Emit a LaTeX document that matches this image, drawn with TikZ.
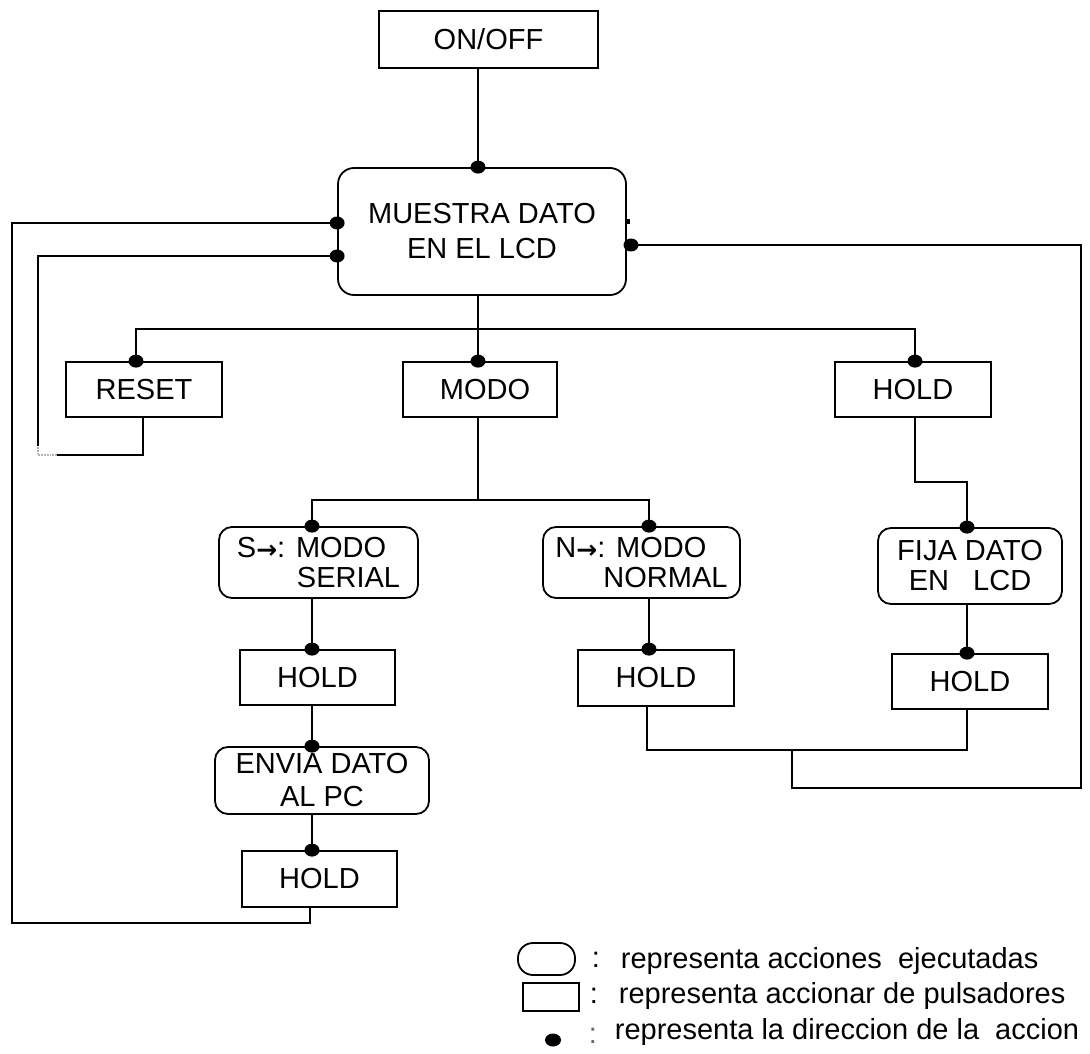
\documentclass[tikz,border=0pt]{standalone}
\usepackage{fontspec}
\usetikzlibrary{shapes.geometric}
\setmainfont{Liberation Sans}
\newfontfamily\arrowfont{DejaVu Sans}
\newcommand{\rarr}{{\arrowfont\bfseries\fontsize{25}{25}\selectfont\raisebox{-1pt}{→}}}
\begin{document}
\begin{tikzpicture}[x=1pt,y=-1pt,
  line width=1.8pt,
  txt/.style={font=\fontsize{29}{34}\selectfont},
  btn/.style={draw, rectangle, inner sep=0pt, line width=1.8pt, txt},
  act/.style={draw, rectangle, rounded corners=13pt, inner sep=0pt, line width=1.8pt, txt},
  dotmark/.style={ellipse, fill=black, inner sep=0pt, minimum width=15pt, minimum height=13pt},
  wire/.style={line width=1.8pt},
  faint/.style={line width=1.8pt, gray!60, densely dotted},
  legtxt/.style={txt, inner sep=0pt, anchor=base west}
]
\useasboundingbox (0,0) rectangle (1090,1054);

% ---------- blocks ----------
\node[btn, minimum width=219, minimum height=57] (onoff) at (488.5,39.5) {ON/OFF};
\node[act, rounded corners=16pt, minimum width=288, minimum height=127, align=center,
      font=\fontsize{29}{35}\selectfont] (muestra) at (482,231.5) {MUESTRA DATO\\EN EL LCD};

\node[btn, minimum width=156, minimum height=55] (reset) at (144,389.5) {RESET};
\node[btn, minimum width=154, minimum height=55, text width=154, align=center] (modo) at (480,389.5) {\hspace*{10pt}MODO};
\node[btn, minimum width=156, minimum height=55] (hold1) at (913,389.5) {HOLD};

\node[act, minimum width=199, minimum height=71, align=left,
      font=\fontsize{29}{30}\selectfont] (serial) at (318.5,562.5)
      {S\rarr: MODO\\\hspace*{60pt}SERIAL};
\node[act, minimum width=197, minimum height=71, align=left,
      font=\fontsize{29}{30}\selectfont] (normal) at (641.5,562.5)
      {N\rarr: MODO\\\hspace*{48pt}NORMAL};
\node[act, minimum width=184, minimum height=76, align=center,
      font=\fontsize{29}{30}\selectfont] (fija) at (970,566)
      {FIJA DATO\\EN\ \ \ LCD};

\node[btn, minimum width=155, minimum height=55] (holdsa) at (317.5,677.5) {HOLD};
\node[btn, minimum width=156, minimum height=56] (holdn)  at (656,678) {HOLD};
\node[btn, minimum width=156, minimum height=55] (holdf)  at (970,681.5) {HOLD};

\node[act, minimum width=214, minimum height=67, align=center,
      font=\fontsize{29}{33}\selectfont] (envia) at (322,780.5) {ENVIA DATO\\AL PC};
\node[btn, minimum width=155, minimum height=56] (holdsb) at (319.5,879) {HOLD};

% ---------- routing columns and rows ----------
\coordinate (cx)  at (478,0);
\coordinate (rx)  at (136,0);
\coordinate (rbx) at (143,0);
\coordinate (hx)  at (915,0);
\coordinate (sx)  at (312,0);
\coordinate (sbx) at (310,0);
\coordinate (nx)  at (649,0);
\coordinate (nbx) at (647,0);
\coordinate (fx)  at (967,0);
\coordinate (jx)  at (792,0);
\coordinate (ox)  at (12,0);
\coordinate (ix)  at (38,0);
\coordinate (ix2) at (57,0);
\coordinate (ex)  at (1081,0);
\coordinate (rowa) at (0,329);
\coordinate (rowb) at (0,500);
\coordinate (rowh) at (0,482);
\coordinate (rowl1) at (0,223);
\coordinate (rowl2) at (0,256);
\coordinate (rowr) at (0,245);
\coordinate (rowbot) at (0,923);
\coordinate (rowres) at (0,455);
\coordinate (rowres2) at (0,446);
\coordinate (rowm1) at (0,750);
\coordinate (rowm2) at (0,788);
\coordinate (rdot) at (631,245);

% ---------- connectors ----------
\draw[wire] (cx |- onoff.south) -- (cx |- muestra.north) node[dotmark]{};
\draw[wire] (cx |- muestra.south) -- (cx |- modo.north) node[dotmark]{};
\draw[wire] (rx |- reset.north) node[dotmark]{} -- (rx |- rowa) -- (hx |- rowa)
            -- (hx |- hold1.north) node[dotmark]{};

\draw[wire] (cx |- modo.south) -- (cx |- rowb);
\draw[wire] (sx |- serial.north) node[dotmark]{} -- (sx |- rowb) -- (nx |- rowb)
            -- (nx |- normal.north) node[dotmark]{};

\draw[wire] (hx |- hold1.south) -- (hx |- rowh) -- (fx |- rowh)
            -- (fx |- fija.north) node[dotmark]{};

\draw[wire] (sx |- serial.south) -- (sx |- holdsa.north) node[dotmark]{};
\draw[wire] (sx |- holdsa.south) -- (sx |- envia.north) node[dotmark]{};
\draw[wire] (sx |- envia.south) -- (sx |- holdsb.north) node[dotmark]{};
\draw[wire] (nx |- normal.south) -- (nx |- holdn.north) node[dotmark]{};
\draw[wire] (fx |- fija.south) -- (fx |- holdf.north) node[dotmark]{};

% outer return loop from the last HOLD
\draw[wire] (sbx |- holdsb.south) -- (sbx |- rowbot) -- (ox |- rowbot)
            -- (ox |- rowl1) -- (muestra.west |- rowl1) node[dotmark]{};

% return loop from RESET
\draw[wire] (rbx |- reset.south) -- (rbx |- rowres) -- (ix2 |- rowres);
\draw[faint] (ix2 |- rowres) -- (ix |- rowres) -- (ix |- rowres2);
\draw[wire] (ix |- rowres2) -- (ix |- rowl2) -- (muestra.west |- rowl2) node[dotmark]{};

% return loop from the right-hand HOLD blocks
\draw[wire] (nbx |- holdn.south) -- (nbx |- rowm1) -- (fx |- rowm1) -- (fx |- holdf.south);
\draw[wire] (jx |- rowm1) -- (jx |- rowm2) -- (ex |- rowm2) -- (ex |- rowr) -- (rdot);
\node[dotmark] (rd) at (rdot) {};

% small tick on the right edge of the display block
\fill (626,219) rectangle (629.5,224);

% ---------- legend ----------
\node[act, rounded corners=15pt, minimum width=57, minimum height=32] (lgact) at (546.5,959) {};
\node[btn, minimum width=56, minimum height=28] (lgbtn) at (551,997) {};
\node[dotmark, minimum width=16pt, minimum height=13pt] (lgdot) at (553,1040) {};

\node[legtxt] (lc1) at (591,967) {:};
\node[legtxt] (lc2) at (589,1003) {:};
\node[legtxt, text=black!60] (lc3) at (588,1043) {:};
\node[legtxt] (lt1) at (620,968) {representa acciones\ \ ejecutadas};
\node[legtxt] (lt2) at (618,1003) {representa accionar de pulsadores};
\node[legtxt] (lt3) at (614,1039) {representa la direccion de la\ \ accion};
\end{tikzpicture}
\end{document}
